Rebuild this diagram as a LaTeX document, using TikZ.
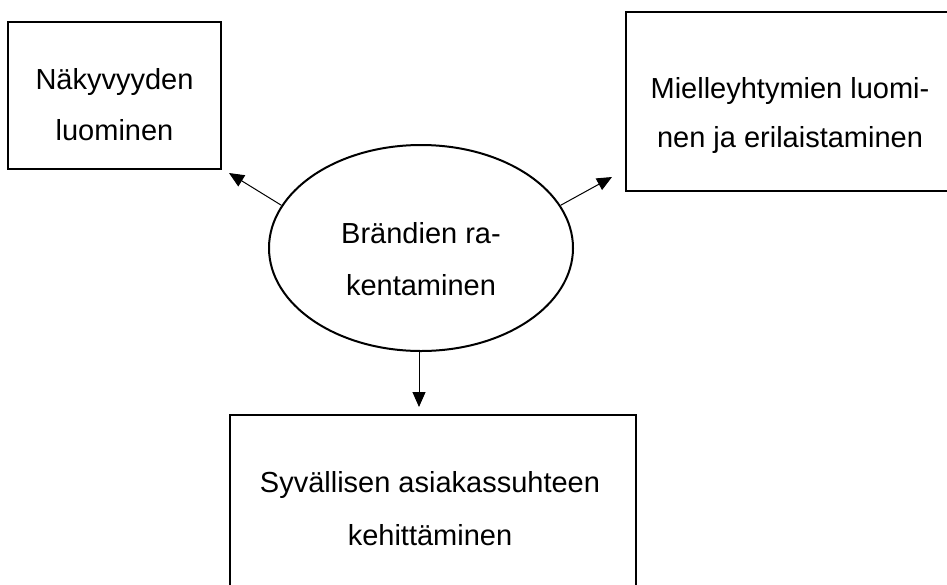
\documentclass[tikz,border=0pt]{standalone}
\usepackage{fontspec}
\setmainfont{Liberation Sans}
\usetikzlibrary{arrows.meta,shapes.geometric}
\begin{document}
\begin{tikzpicture}[x=1pt,y=-1pt,
  box/.style={draw, line width=2pt, inner sep=0pt},
  lbl/.style={anchor=base, inner sep=0pt, font=\fontsize{29}{35}\selectfont},
  conn/.style={line width=1pt, -{Triangle[length=15pt,width=13pt]}}]
\useasboundingbox (0,0) rectangle (947,584);
\clip (0,0) rectangle (947,584);
% shapes
\node[box, minimum width=213pt, minimum height=147pt] (vis) at (114.5,95.5) {};
\node[box, minimum width=328pt, minimum height=179pt] (mie) at (790,101.5) {};
\node[box, minimum width=406pt, minimum height=185pt] (syv) at (433,507.5) {};
\node[draw, ellipse, line width=2pt, inner sep=0pt, minimum width=304pt, minimum height=206pt] (brand) at (421,248) {};
% texts
\node[lbl] (vis1) at (114.5,89) {Näkyvyyden};
\node[lbl] (vis2) at (114.5,140) {luominen};
\node[lbl] (mie1) at (790,98) {Mielleyhtymien luomi-};
\node[lbl] (mie2) at (790,147) {nen ja erilaistaminen};
\node[lbl] (bra1) at (421,243) {Brändien ra-};
\node[lbl] (bra2) at (421,295) {kentaminen};
\node[lbl] (syv1) at (430,492) {Syvällisen asiakassuhteen};
\node[lbl] (syv2) at (430,545) {kehittäminen};
% connectors
\coordinate (tipL) at (229,173);
\coordinate (tipR) at (612,177);
\coordinate (tipB) at (419,407);
\draw[conn] (brand.163.9) -- (tipL);
\draw[conn] (brand.17.1) -- (tipR);
\draw[conn] (brand.south -| tipB) -- (tipB);
\end{tikzpicture}
\end{document}
